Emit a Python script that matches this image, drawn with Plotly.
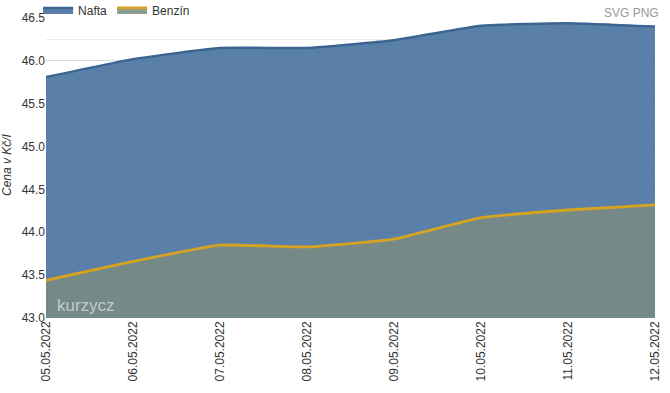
import plotly.graph_objects as go

dates = ["05.05.2022", "06.05.2022", "07.05.2022", "08.05.2022",
         "09.05.2022", "10.05.2022", "11.05.2022", "12.05.2022"]
nafta = [45.81, 46.02, 46.15, 46.15, 46.24, 46.41, 46.44, 46.40]
benzin = [43.44, 43.66, 43.85, 43.83, 43.92, 44.17, 44.26, 44.32]
y_ticks = [43.0, 43.5, 44.0, 44.5, 45.0, 45.5, 46.0, 46.5]

fig = go.Figure()
fig.add_trace(go.Scatter(
    x=dates, y=nafta, name="Nafta", mode="lines",
    line=dict(color="#3b6591", width=2.5, shape="spline", smoothing=0.4),
    fill="tozeroy", fillcolor="rgba(61,106,155,0.85)",
))
fig.add_trace(go.Scatter(
    x=dates, y=benzin, name="Benzín", mode="lines",
    line=dict(color="#d6a321", width=2.8, shape="spline", smoothing=0.4),
    fill="tozeroy", fillcolor="rgba(122,140,128,0.85)",
))

fig.update_layout(
    width=670, height=393,
    margin=dict(l=46, r=15, t=18, b=75, autoexpand=False),
    paper_bgcolor="white", plot_bgcolor="white",
    font=dict(family="Arial, Liberation Sans, sans-serif", size=12, color="#333333"),
    showlegend=True,
    legend=dict(orientation="h", x=-0.013, y=1.027, xref="paper", yref="paper",
                xanchor="left", yanchor="middle", font=dict(size=12, color="#333333"),
                bgcolor="rgba(0,0,0,0)", itemwidth=30, tracegroupgap=0),
    xaxis=dict(
        type="category", range=[0, len(dates) - 1], tickangle=-90,
        showgrid=False, showline=False, ticks="", automargin=False,
        tickfont=dict(size=12, color="#333333"),
    ),
    yaxis=dict(
        range=[43.0, 46.5], tickvals=y_ticks,
        ticktext=[f"{v:.1f}" for v in y_ticks],
        showgrid=True, gridcolor="#d9d9d9", gridwidth=1,
        minor=dict(tick0=43.0, dtick=0.25, showgrid=True, gridcolor="#ebebeb", gridwidth=1),
        zeroline=False, showline=False, ticks="", automargin=False,
        tickfont=dict(size=12, color="#333333"),
    ),
)

fig.add_annotation(text="<i>Cena v Kč/l</i>", xref="paper", yref="paper",
                   x=-0.064, y=0.51, xanchor="center", yanchor="middle",
                   textangle=-90, showarrow=False,
                   font=dict(size=12, color="#333333"))
fig.add_annotation(text="kurzycz", xref="paper", yref="paper", x=0.0148, y=0.043,
                   xanchor="left", yanchor="middle", showarrow=False,
                   font=dict(size=17, color="rgba(215,222,222,0.8)", family="Arial"))
fig.add_annotation(text="SVG PNG", xref="paper", yref="paper", x=1.0099, y=1.017,
                   xanchor="right", yanchor="middle", showarrow=False,
                   font=dict(size=12, color="#9a9a9a"))

fig.write_html("out.html", config={"displayModeBar": False},
               post_script="document.body.style.margin='0';")
